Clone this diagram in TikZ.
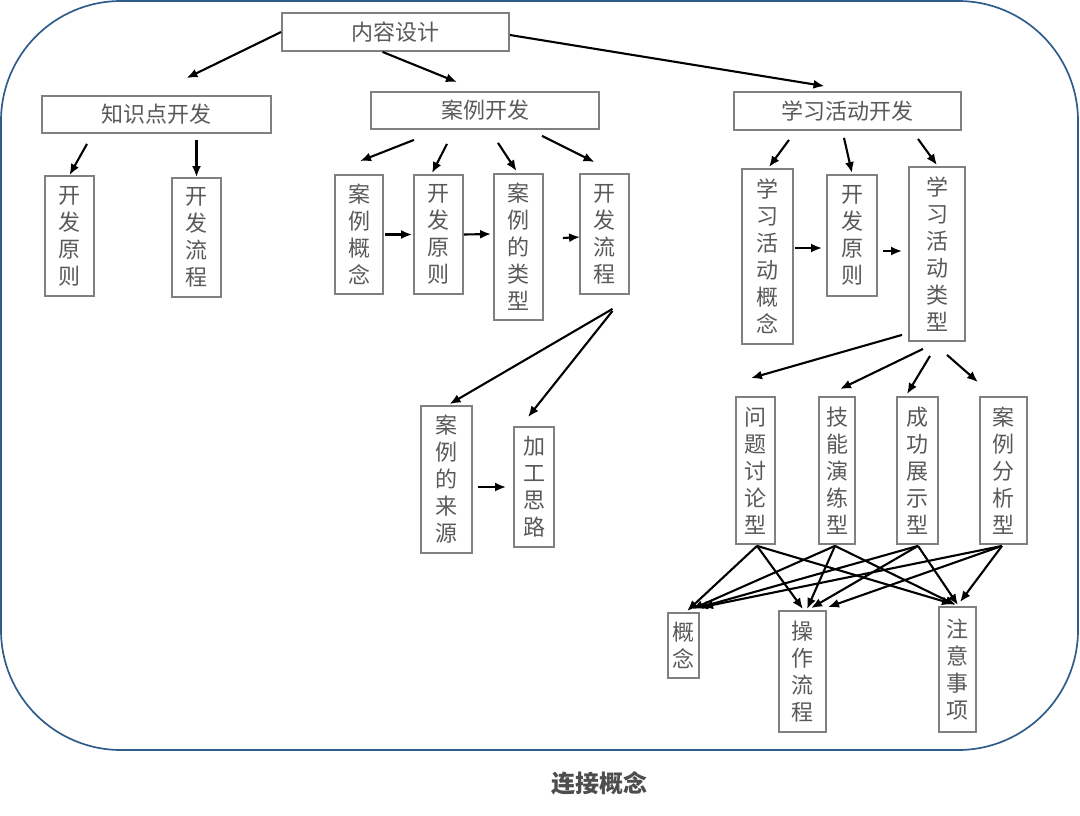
\documentclass[tikz,border=0pt]{standalone}
\usepackage{fontspec}
\setmainfont{Noto Sans CJK SC}
\usetikzlibrary{calc,arrows.meta}
\definecolor{framec}{RGB}{46,93,140}
\definecolor{boxc}{RGB}{128,128,128}
\definecolor{txtc}{RGB}{89,89,89}
\definecolor{capc}{RGB}{77,77,77}
\tikzset{
  bx/.style={draw=boxc,line width=1.8pt,text=txtc,inner sep=0pt,align=center,
    font=\fontsize{22}{27}\selectfont},
  arr/.style={draw=black,line width=2.1pt,-{Latex[length=11pt,width=9pt]}},
}
\begin{document}
\begin{tikzpicture}[x=1pt,y=-1pt]
\useasboundingbox (0,0) rectangle (1080,815);
\draw[framec,line width=1.7pt,rounded corners=120pt] (1,1) rectangle (1078,750);
% top level
\node[bx,minimum width=227pt,minimum height=38pt] (top) at (395.5,32) {内容设计};
\node[bx,minimum width=229pt,minimum height=37pt] (zsd) at (156.5,114.5) {知识点开发};
\node[bx,minimum width=228pt,minimum height=37pt] (alk) at (485,110.5) {案例开发};
\node[bx,minimum width=227pt,minimum height=38pt] (xx) at (847.5,111) {学习活动开发};
% level 2
\node[bx,minimum width=49pt,minimum height=120pt] (a1) at (69.5,236) {开\\发\\原\\则};
\node[bx,minimum width=49pt,minimum height=119pt] (a2) at (196.5,237.5) {开\\发\\流\\程};
\node[bx,minimum width=48pt,minimum height=119pt] (b1) at (359,234.5) {案\\例\\概\\念};
\node[bx,minimum width=49pt,minimum height=119pt] (b2) at (438.5,234.5) {开\\发\\原\\则};
\node[bx,minimum width=49pt,minimum height=146pt] (b3) at (518.5,247) {案\\例\\的\\类\\型};
\node[bx,minimum width=49pt,minimum height=120pt] (b4) at (604.5,234) {开\\发\\流\\程};
\node[bx,minimum width=51pt,minimum height=147pt] (b5) at (446.5,479.5) {案\\例\\的\\来\\源};
\node[bx,minimum width=40pt,minimum height=120pt] (b6) at (534,487) {加\\工\\思\\路};
\node[bx,minimum width=51pt,minimum height=175pt] (c1) at (767.5,256.5) {学\\习\\活\\动\\概\\念};
\node[bx,minimum width=50pt,minimum height=121pt] (c2) at (852,235.5) {开\\发\\原\\则};
\node[bx,minimum width=56pt,minimum height=174pt] (c3) at (937,254) {学\\习\\活\\动\\类\\型};
\node[bx,minimum width=39pt,minimum height=147pt] (d1) at (755.5,470.5) {问\\题\\讨\\论\\型};
\node[bx,minimum width=36pt,minimum height=147pt] (d2) at (837,470.5) {技\\能\\演\\练\\型};
\node[bx,minimum width=41pt,minimum height=147pt] (d3) at (917.5,470.5) {成\\功\\展\\示\\型};
\node[bx,minimum width=47pt,minimum height=147pt] (d4) at (1003.5,470.5) {案\\例\\分\\析\\型};
\node[bx,minimum width=31pt,minimum height=65pt] (e1) at (683.5,645.5) {概\\念};
\node[bx,minimum width=47pt,minimum height=121pt] (e2) at (802.5,671.5) {操\\作\\流\\程};
\node[bx,minimum width=37pt,minimum height=125pt] (e3) at (957.5,669.5) {注\\意\\事\\项};
% caption
\node[text=capc,font=\fontsize{24}{28}\selectfont\bfseries,inner sep=0pt] (cap) at (599,783) {连接概念};
% arrows from top
\draw[arr] (top.west) -- ($(zsd.north)+(30,-17)$);
\draw[arr] ($(top.south)+(-13,0)$) -- ($(alk.north)+(-28,-9)$);
\draw[arr] ($(top.east)+(0,3)$) -- ($(xx.north)+(-23,-5)$);
% zsd
\draw[arr] ($(zsd.south)+(-69.5,10)$) -- (a1.north);
\draw[arr] ($(zsd.south)+(40,6)$) -- (a2.north);
% alk
\draw[arr] ($(alk.south)+(-71,10)$) -- ($(b1.north)+(1,-13)$);
\draw[arr] ($(alk.south)+(-38,14)$) -- ($(b2.north)+(-6.5,-1)$);
\draw[arr] ($(alk.south)+(13,13)$) -- ($(b3.north)+(-2,-2)$);
\draw[arr] ($(alk.south)+(57,6)$) -- ($(b4.north)+(-10,-11)$);
\draw[arr] ($(b1.east)+(1,0)$) -- ($(b2.west)+(-1,0)$);
\draw[arr] (b2.east) -- ($(b3.west)+(-2,-13)$);
\draw[arr] ($(b3.east)+(19,-9)$) -- ($(b4.west)+(1,3)$);
\draw[arr] ($(b4.south)+(8,14)$) -- ($(b5.north)+(3,-1)$);
\draw[arr] ($(b4.south)+(8,16)$) -- ($(b6.north)+(-6,-9)$);
\draw[arr] ($(b5.east)+(5,7.5)$) -- ($(b6.west)+(-7,0)$);
% xx
\draw[arr] ($(xx.south)+(-58.5,9)$) -- ($(c1.north)+(1.5,-1)$);
\draw[arr] ($(xx.south)+(-3.5,7)$) -- ($(c2.north)+(0,-1)$);
\draw[arr] ($(xx.south)+(70.5,8)$) -- ($(c3.north)+(0,-1)$);
\draw[arr] ($(c1.east)+(1,-8.5)$) -- ($(c2.west)+(-4,12.5)$);
\draw[arr] ($(c2.east)+(5,15.5)$) -- ($(c3.west)+(-6,-3)$);
\draw[arr] ($(c3.south)+(-35,-7)$) -- ($(d1.north)+(-4.5,-18)$);
\draw[arr] ($(c3.south)+(-14,7)$) -- ($(d2.north)+(3,-7)$);
\draw[arr] ($(c3.south)+(-7,14)$) -- ($(d3.north)+(-10.5,-2)$);
\draw[arr] ($(c3.south)+(10,13)$) -- ($(d4.north)+(-25.5,-14)$);
% bottom cross connections
\draw[arr] ($(d1.south)+(1.5,1)$) -- ($(e1.north)+(3.5,-1)$);
\draw[arr] ($(d1.south)+(1.5,1)$) -- ($(e2.north)+(0.5,-1)$);
\draw[arr] ($(d1.south)+(1.5,1)$) -- ($(e3.north)+(-4.5,-2)$);
\draw[arr] ($(d2.south)+(-2,1)$) -- ($(e1.north)+(8.5,-3)$);
\draw[arr] ($(d2.south)+(-2,1)$) -- ($(e2.north)+(4.5,-1)$);
\draw[arr] ($(d2.south)+(-2,1)$) -- ($(e3.north)+(-1.5,-1)$);
\draw[arr] ($(d3.south)+(0.5,1)$) -- ($(e1.north)+(13.5,-4)$);
\draw[arr] ($(d3.south)+(0.5,1)$) -- ($(e2.north)+(8.5,-2)$);
\draw[arr] ($(d3.south)+(0.5,1)$) -- ($(e3.north)+(0.5,-1)$);
\draw[arr] ($(d4.south)+(-1.5,1)$) -- ($(e1.north)+(18.5,-5)$);
\draw[arr] ($(d4.south)+(-1.5,1)$) -- ($(e2.north)+(25.5,-3)$);
\draw[arr] ($(d4.south)+(-1.5,1)$) -- ($(e3.north)+(2.5,-4)$);
\end{tikzpicture}
\end{document}
